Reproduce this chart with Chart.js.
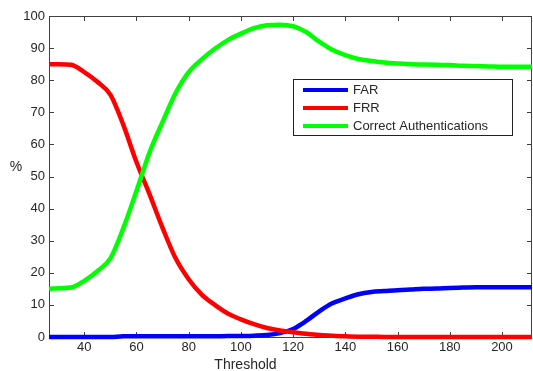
<!DOCTYPE html>
<html><head><meta charset="utf-8">
<script src="https://cdn.jsdelivr.net/npm/chart.js@4/dist/chart.umd.min.js"></script>
<style>html,body{margin:0;padding:0;background:#fff}#wrap{position:relative;width:533px;height:371px}</style>
</head><body><div id="wrap"><canvas id="c" width="533" height="371"></canvas></div>
<script>
const thresholds=[26.5,30,35,40,45,50,55,60,65,70,75,80,85,90,95,100,105,110,115,120,125,130,135,140,145,150,155,160,165,170,175,180,185,190,195,200,205,211.5];
const far=[0,0,0,0,0,0,0.2,0.2,0.2,0.2,0.2,0.2,0.2,0.2,0.3,0.3,0.4,0.6,1.2,2.5,5,8,10.5,12,13.3,14,14.3,14.6,14.8,15,15.1,15.3,15.4,15.5,15.5,15.5,15.5,15.5];
const frr=[85,85,84.8,82.5,79.5,75.5,66,54.5,44.5,34,24.5,18,13.2,10,7.3,5.5,4,2.8,2,1.5,1,0.6,0.4,0.2,0.1,0.1,0,0,0,0,0,0,0,0,0,0,0,0];
const correct=[15,15.2,15.4,17.5,20.5,24.5,34,45.5,57.5,67,76,82.5,86.5,89.8,92.5,94.5,96.2,97.1,97.3,96.8,95,92,89.5,87.8,86.6,86,85.5,85.2,85,84.9,84.8,84.7,84.5,84.4,84.3,84.2,84.2,84.2];
const seriesNames=['FAR','FRR','Correct Authentications'];
const xTicks=[40,60,80,100,120,140,160,180,200];
const yTicks=[0,10,20,30,40,50,60,70,80,90,100];
const xTitle='Threshold';
const yTitle='%';

const FONT='"Liberation Sans", Arial, sans-serif';
const TXT='#262626';
const AX='#404040';
const toPts=v=>thresholds.map((x,i)=>({x:x,y:v[i]}));
const colors=['#0000ff','#ff0000','#00ff00'];
const seriesVals=[far,frr,correct];

const frame={
  id:'frame',
  beforeDatasetsDraw(chart){
    const {ctx,chartArea:a,scales:{x,y}}=chart;
    ctx.save();
    ctx.strokeStyle=AX;ctx.lineWidth=1;
    ctx.strokeRect(a.left+0.5,a.top+0.5,a.right-a.left-1,a.bottom-a.top);
    ctx.beginPath();
    const L=5;
    xTicks.forEach(v=>{const p=Math.round(x.getPixelForValue(v))+0.5;
      ctx.moveTo(p,a.bottom);ctx.lineTo(p,a.bottom-L);
      ctx.moveTo(p,a.top);ctx.lineTo(p,a.top+L);});
    yTicks.forEach(v=>{const p=Math.round(y.getPixelForValue(v))+0.5;
      ctx.moveTo(a.left,p);ctx.lineTo(a.left+L,p);
      ctx.moveTo(a.right,p);ctx.lineTo(a.right-L,p);});
    ctx.stroke();
    ctx.restore();
  },
  afterDraw(chart){
    const {ctx}=chart;
    ctx.save();
    ctx.fillStyle=TXT;
    ctx.font='14px '+FONT;
    ctx.textAlign='center';ctx.textBaseline='alphabetic';
    ctx.fillText(xTitle,245.5,369);
    ctx.fillText(yTitle,16,171);
    const lx=293,ly=79,lw=219,lh=56;
    ctx.fillStyle='#fff';ctx.fillRect(lx,ly,lw,lh);
    ctx.strokeStyle='#222';ctx.lineWidth=1;
    ctx.strokeRect(lx+0.5,ly+0.5,lw,lh);
    ctx.font='13px '+FONT;ctx.textAlign='left';ctx.textBaseline='middle';
    chart.data.datasets.forEach((d,i)=>{
      const yy=ly+11+i*18;
      ctx.strokeStyle=d.borderColor;ctx.lineWidth=4;
      ctx.beginPath();ctx.moveTo(303,yy);ctx.lineTo(348,yy);ctx.stroke();
      ctx.fillStyle=TXT;ctx.fillText(d.label,353,yy+0.5);
    });
    ctx.restore();
  }
};

new Chart(document.getElementById('c'),{
  type:'line',
  data:{datasets:seriesNames.map((n,i)=>({
    label:n,data:toPts(seriesVals[i]),borderColor:colors[i],backgroundColor:colors[i],
    borderWidth:4.5,pointRadius:0,cubicInterpolationMode:'monotone',clip:false,order:3-i
  }))},
  options:{
    responsive:false,devicePixelRatio:1,animation:false,
    layout:{padding:{left:0,top:16,right:1,bottom:0}},
    plugins:{legend:{display:false},tooltip:{enabled:false}},
    scales:{
      x:{type:'linear',min:26.5,max:211.5,
        afterBuildTicks:s=>{s.ticks=xTicks.map(v=>({value:v}));},
        afterFit:s=>{s.height=34;},
        grid:{display:false,drawTicks:false},border:{display:false},
        ticks:{font:{family:FONT,size:13},color:TXT,padding:3,maxRotation:0,autoSkip:false}},
      y:{type:'linear',min:0,max:100,
        afterBuildTicks:s=>{s.ticks=yTicks.map(v=>({value:v}));},
        afterFit:s=>{s.width=49;},
        grid:{display:false,drawTicks:false},border:{display:false},
        ticks:{font:{family:FONT,size:13},color:TXT,padding:4,autoSkip:false}}
    }
  },
  plugins:[frame]
});
</script></body></html>
